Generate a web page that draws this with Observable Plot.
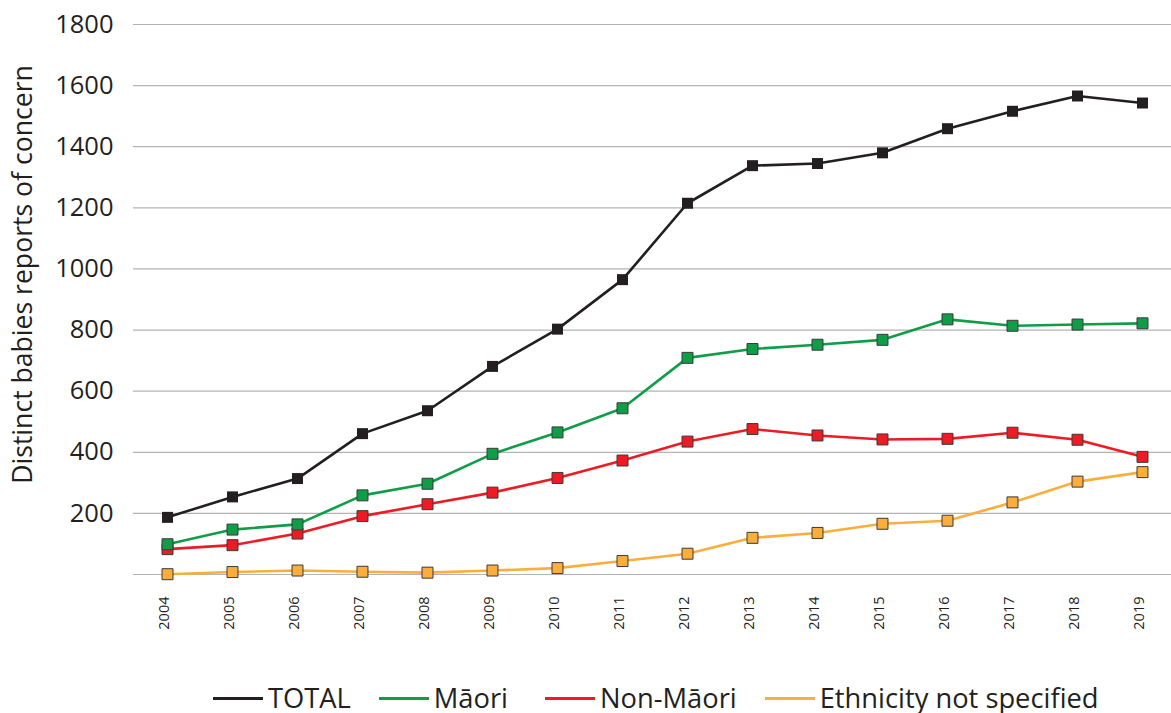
<!DOCTYPE html>
<html>
<head>
<meta charset="utf-8">
<script src="https://cdn.jsdelivr.net/npm/d3@7"></script>
<script src="https://cdn.jsdelivr.net/npm/@observablehq/plot@0.6"></script>
<style>
  html, body { margin: 0; padding: 0; background: #fff; }
  body { width: 1171px; height: 713px; overflow: hidden; font-family: "Open Sans", sans-serif; }
  #legend { display: flex; align-items: center; gap: 28px; padding-left: 213px; padding-top: 13px; height: 30px; line-height: 30px; font-size: 27.3px; color: #231f20; }
  #legend .item { display: flex; align-items: center; }
  #legend .item.wide { margin-left: 9px; }
  #legend .sw { width: 50px; height: 3px; margin-right: 5px; }
</style>
</head>
<body>
<div id="chart"></div>
<div id="legend"></div>
<script>
const years = [2004, 2005, 2006, 2007, 2008, 2009, 2010, 2011, 2012, 2013, 2014, 2015, 2016, 2017, 2018, 2019];
const total = [187, 254, 314, 461, 536, 681, 803, 965, 1215, 1338, 1345, 1380, 1459, 1516, 1566, 1543];
const maori = [99, 147, 164, 259, 297, 395, 465, 544, 709, 738, 752, 768, 835, 814, 818, 822];
const nonMaori = [83, 96, 134, 191, 230, 268, 316, 373, 435, 476, 455, 442, 444, 464, 441, 385];
const notSpecified = [1, 8, 13, 9, 6, 13, 21, 44, 68, 120, 136, 166, 176, 236, 304, 335];
const seriesNames = ["TOTAL", "Māori", "Non-Māori", "Ethnicity not specified"];
const seriesColors = ["#231f20", "#0f9d48", "#ed1c24", "#fbae3c"];
const yTicks = [200, 400, 600, 800, 1000, 1200, 1400, 1600, 1800];
const gridValues = [0, 200, 400, 600, 800, 1000, 1200, 1400, 1600, 1800];
const yLabel = "Distinct babies reports of concern";

const seriesValues = [total, maori, nonMaori, notSpecified];
const rows = [];
seriesNames.forEach((name, i) => {
  years.forEach((yr, j) => rows.push({series: name, year: String(yr), value: seriesValues[i][j]}));
});
const drawOrder = ["Ethnicity not specified", "Non-Māori", "Māori", "TOTAL"];
const colorOf = Object.fromEntries(seriesNames.map((n, i) => [n, seriesColors[i]]));

const marks = [
  Plot.ruleY(gridValues, {stroke: "#b3b3b3", strokeWidth: 1.2}),
  Plot.axisY(yTicks, {tickSize: 0, tickPadding: 20, fontSize: 25.5, label: null, fill: "#231f20", tickFormat: d => String(d)}),
  Plot.axisX({tickSize: 0, tickRotate: -90, tickPadding: 22, dx: -3, fontSize: 14.5, label: null, fill: "#231f20"}),
  Plot.text([yLabel], {frameAnchor: "left", textAnchor: "middle", rotate: -90, dx: -110, dy: -25, fontSize: 26.6, fill: "#231f20"})
];
for (const name of drawOrder) {
  const data = rows.filter(d => d.series === name);
  marks.push(Plot.line(data, {x: "year", y: "value", stroke: colorOf[name], strokeWidth: 2.6}));
  marks.push(Plot.dot(data, {x: "year", y: "value", symbol: "square", r: 6.2, fill: colorOf[name],
    stroke: name === "TOTAL" ? colorOf[name] : "#3a3a3a", strokeWidth: name === "TOTAL" ? 0 : 1}));
}

const chart = Plot.plot({
  width: 1171,
  height: 670,
  marginLeft: 133,
  marginRight: 0,
  marginTop: 24,
  marginBottom: 96,
  style: {fontFamily: "Open Sans, sans-serif", background: "#fff", overflow: "visible"},
  x: {type: "point", domain: years.map(String), range: [165.5, 1144], padding: 0},
  y: {domain: [0, 1800]},
  marks
});
document.getElementById("chart").appendChild(chart);

const legend = document.getElementById("legend");
seriesNames.forEach((name, i) => {
  const item = document.createElement("div");
  item.className = i === 2 ? "item wide" : "item";
  const sw = document.createElement("span");
  sw.className = "sw";
  sw.style.background = seriesColors[i];
  const t = document.createElement("span");
  t.textContent = name;
  item.appendChild(sw);
  item.appendChild(t);
  legend.appendChild(item);
});
</script>
</body>
</html>
